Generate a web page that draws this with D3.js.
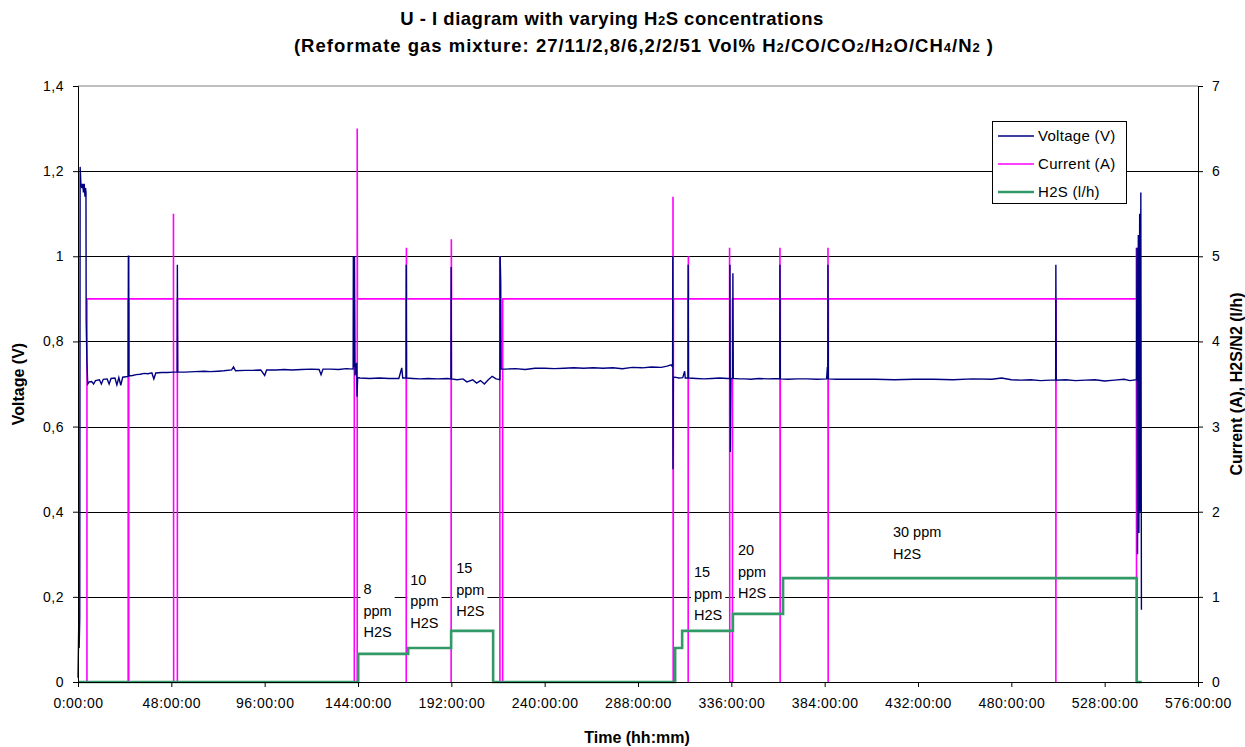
<!DOCTYPE html>
<html><head><meta charset="utf-8">
<script src="https://cdn.jsdelivr.net/npm/d3@7"></script>
<style>
html,body{margin:0;padding:0;background:#fff;}
svg{display:block;}
text{font-family:"Liberation Sans",Arial,sans-serif;}
</style></head>
<body>
<svg id="chart" width="1245" height="747"></svg>
<script>
// ---------- DATA ----------
const timeTickHours = [0,48,96,144,192,240,288,336,384,432,480,528,576];
const timeTickLabels = ["0:00:00","48:00:00","96:00:00","144:00:00","192:00:00","240:00:00","288:00:00","336:00:00","384:00:00","432:00:00","480:00:00","528:00:00","576:00:00"];
const leftTickValues = [0,0.2,0.4,0.6,0.8,1.0,1.2,1.4];
const leftTickLabels = ["0","0,2","0,4","0,6","0,8","1","1,2","1,4"];
const rightTickValues = [0,1,2,3,4,5,6,7];
const rightTickLabels = ["0","1","2","3","4","5","6","7"];
const seriesNames = ["Voltage (V)","Current (A)","H2S (l/h)"];

// Voltage (V) vs time (h)
const voltage = [
[0,0.01],[0.4,0.14],[0.6,0.08],[0.9,0.15],[1.1,1.21],[1.5,1.17],[2.0,1.16],[2.4,1.17],[2.8,1.15],[3.2,1.17],[3.6,1.14],[3.9,1.16],[4.1,1.15],[4.2,0.85],[4.6,0.75],[5.0,0.70],[5.8,0.705],
[7,0.706],[8,0.70],[9,0.708],[11,0.71],[12,0.70],[13,0.711],[15,0.712],[16,0.70],[17,0.713],[19,0.714],[20,0.698],[21,0.715],[22,0.697],[23,0.716],[25.8,0.718],[25.9,1.0],[26.1,1.0],[26.2,0.719],
[28,0.72],[30,0.722],[32,0.723],[34,0.725],[36,0.724],[38,0.726],[39,0.712],[40,0.726],[43,0.727],[46,0.727],[49,0.728],[51.0,0.728],[51.1,0.98],[51.3,0.728],
[55,0.728],[60,0.729],[65,0.73],[68,0.729],[72,0.73],[75,0.731],[79,0.733],[80,0.74],[81,0.731],[86,0.732],[90,0.732],[94,0.733],[96,0.72],[97,0.733],[102,0.733],[106,0.734],[110,0.733],[115,0.734],[120,0.735],[124,0.734],[125,0.722],[126,0.735],[130,0.735],[134,0.734],[138,0.736],[141.5,0.735],[141.6,1.0],[141.9,0.74],[142.2,1.0],[142.5,0.72],[143.3,0.75],[143.5,0.67],[143.8,0.715],
[145,0.714],[150,0.713],[155,0.714],[160,0.713],[165,0.713],[166.5,0.738],[167,0.714],[168.7,0.714],[168.8,0.98],[169.0,0.714],[172,0.713],[176,0.712],[180,0.713],[185,0.712],[190,0.713],[191.8,0.712],[191.9,0.975],[192.1,0.712],[195,0.71],[198,0.712],[200,0.705],[203,0.71],[205,0.702],[207,0.708],[209,0.70],[211,0.71],[213,0.718],[215,0.712],[217.0,0.71],[217.1,1.0],[217.4,0.94],[217.6,0.735],
[220,0.735],[225,0.736],[230,0.734],[235,0.737],[240,0.737],[245,0.736],[250,0.737],[255,0.738],[260,0.737],[265,0.738],[270,0.737],[275,0.738],[280,0.736],[285,0.739],[290,0.738],[295,0.74],[300,0.739],[303,0.742],[305,0.745],[305.8,0.74],[305.9,1.0],[306.0,0.5],[306.2,0.715],
[307,0.716],[309,0.714],[311,0.715],[312,0.73],[312.3,0.714],[313.7,0.714],[313.8,0.98],[314.0,0.714],[318,0.713],[322,0.712],[326,0.713],[330,0.714],[334,0.713],[335.2,0.713],[335.3,0.98],[335.5,0.54],[335.8,0.713],[336.7,0.713],[336.8,0.96],[337.0,0.713],
[340,0.712],[343,0.712],[346,0.711],[350,0.713],[355,0.712],[360.9,0.713],[361.0,0.98],[361.2,0.712],[365,0.711],[370,0.712],[375,0.712],[380,0.711],[385,0.712],[385.4,0.74],[385.6,0.712],[385.7,0.98],[385.9,0.712],
[390,0.711],[400,0.711],[410,0.711],[420,0.71],[430,0.711],[440,0.711],[450,0.71],[460,0.712],[470,0.711],[475,0.714],[480,0.71],[485,0.709],[490,0.71],[495,0.708],[500,0.709],[502.8,0.709],[502.9,0.98],[503.1,0.709],
[508,0.71],[513,0.708],[518,0.709],[523,0.71],[528,0.707],[533,0.709],[538,0.711],[541,0.708],[544.4,0.71],[544.6,1.02],[544.9,0.30],[545.3,1.05],[545.6,0.35],[546.0,1.1],[546.3,0.4],[546.6,1.15],[546.9,0.17]
];

// Current (A) vs time (h)
const current = [
[0,0],[4.6,0],[4.6,4.5],
[25.8,4.5],[25.8,0],[26.1,0],[26.1,4.5],
[49.1,4.5],[49.1,5.5],[49.2,0],[51.1,0],[51.1,4.5],
[142.1,4.5],[142.1,0],[143.6,0],[143.6,6.5],[143.7,4.5],
[168.8,4.5],[168.8,0],[168.9,5.1],[169.0,4.5],
[191.9,4.5],[191.9,0],[192.0,5.2],[192.1,4.5],
[216.9,4.5],[216.9,5.0],[217.0,0],[218.4,0],[218.4,4.5],
[306.0,4.5],[306.0,5.7],[306.1,0],[306.2,4.5],
[313.8,4.5],[313.8,0],[313.9,5.0],[314.0,4.5],
[335.1,4.5],[335.1,5.1],[335.2,0],[336.6,0],[336.6,4.5],
[361.0,4.5],[361.0,5.1],[361.1,0],[361.2,4.5],
[385.7,4.5],[385.7,5.1],[385.8,0],[385.9,4.5],
[502.9,4.5],[502.9,0],[503.0,4.5],
[544.3,4.5],[544.3,5.1],[544.4,0],[547,0]
];

// H2S flow (l/h) vs time (h)
const h2s = [
[0,0],[144.1,0],[144.1,0.33],[169.8,0.33],[169.8,0.40],[191.9,0.40],[191.9,0.60],[213.5,0.60],[213.5,0],
[307.1,0],[307.1,0.40],[310.7,0.40],[310.7,0.60],[336.8,0.60],[336.8,0.80],[362.6,0.80],[362.6,1.22],[544.5,1.22],[544.5,0],[547,0]
];

// Concentration annotations: anchor time (h), right-axis value of first text line, lines
const annotationTimes = [146.8,170.9,194.5,316.8,339.4,419.1];
const annotationLevels = [1.03,1.14,1.28,1.23,1.49,1.70];
const annotationTexts = [["8","ppm","H2S"],["10","ppm","H2S"],["15","ppm","H2S"],["15","ppm","H2S"],["20","ppm","H2S"],["30 ppm","H2S"]];

// ---------- CHART ----------
const svg = d3.select("#chart");
svg.append("rect").attr("width",1245).attr("height",747).attr("fill","#fff");

const x = d3.scaleLinear().domain([0,576]).range([78,1198]);
const yL = d3.scaleLinear().domain([0,1.4]).range([682,86]);
const yR = d3.scaleLinear().domain([0,7]).range([682,86]);

// plot border (grey top)
svg.append("line").attr("x1",x(0)).attr("x2",x(576)).attr("y1",yL(1.4)).attr("y2",yL(1.4)).attr("stroke","#808080").attr("stroke-width",1);

// gridlines
svg.append("g").selectAll("line").data(leftTickValues.filter(v=>v>0 && v<1.4)).join("line")
  .attr("x1",x(0)).attr("x2",x(576)).attr("y1",d=>Math.round(yL(d))+0.5).attr("y2",d=>Math.round(yL(d))+0.5)
  .attr("stroke","#000").attr("stroke-width",1);

// annotation boxes (white background), drawn above gridlines
const annG = svg.append("g");
annotationTexts.forEach((lines,i)=>{
  const g = annG.append("g");
  const t = g.append("text").attr("x",x(annotationTimes[i])).attr("y",yR(annotationLevels[i]))
    .attr("font-family","'DejaVu Sans',Verdana,sans-serif").attr("font-size",14.5).attr("fill","#000");
  lines.forEach((s,j)=>{ t.append("tspan").attr("x",x(annotationTimes[i])).attr("dy",j===0?0:21.5).text(s); });
  const bb = t.node().getBBox();
  g.insert("rect","text").attr("x",bb.x-3).attr("y",bb.y-2).attr("width",bb.width+6).attr("height",bb.height+4).attr("fill","#fff");
});

// series
const lineL = d3.line().x(d=>x(d[0])).y(d=>yL(d[1]));
const lineR = d3.line().x(d=>x(d[0])).y(d=>yR(d[1]));
svg.append("path").datum(current).attr("d",lineR).attr("fill","none").attr("stroke","#FF00FF").attr("stroke-width",1.6);
svg.append("path").datum(voltage).attr("d",lineL).attr("fill","none").attr("stroke","#000080").attr("stroke-width",1.4);
svg.append("path").datum(h2s).attr("d",lineR).attr("fill","none").attr("stroke","#339966").attr("stroke-width",2.6);

// axes
const axisFont = g => g.selectAll("text").attr("font-family","'Liberation Sans',Arial,sans-serif").attr("font-size",14).attr("letter-spacing","0.5px").attr("fill","#000");
const xAxis = svg.append("g").attr("transform","translate(0,682)")
  .call(d3.axisBottom(x).tickValues(timeTickHours).tickFormat((d,i)=>timeTickLabels[i]).tickSizeOuter(0).tickSize(5).tickPadding(11));
xAxis.call(axisFont);
const yAxisL = svg.append("g").attr("transform","translate(78,0)")
  .call(d3.axisLeft(yL).tickValues(leftTickValues).tickFormat((d,i)=>leftTickLabels[i]).tickSizeOuter(0).tickSize(5).tickPadding(9));
yAxisL.call(axisFont);
const yAxisR = svg.append("g").attr("transform","translate(1198,0)")
  .call(d3.axisRight(yR).tickValues(rightTickValues).tickFormat((d,i)=>rightTickLabels[i]).tickSizeOuter(0).tickSize(5).tickPadding(9));
yAxisR.call(axisFont);
svg.selectAll(".domain").attr("stroke","#000");
svg.selectAll(".tick line").attr("stroke","#000");

// axis titles
svg.append("text").attr("x",637).attr("y",743).attr("text-anchor","middle").attr("font-weight","bold").attr("font-size",16).text("Time (hh:mm)");
svg.append("text").attr("transform","translate(24,384) rotate(-90)").attr("text-anchor","middle").attr("font-weight","bold").attr("font-size",16).text("Voltage (V)");
svg.append("text").attr("transform","translate(1242,384) rotate(-90)").attr("text-anchor","middle").attr("font-weight","bold").attr("font-size",16).text("Current (A), H2S/N2 (l/h)");

// title
const t1 = svg.append("text").attr("x",612).attr("y",25).attr("text-anchor","middle").attr("font-weight","bold").attr("font-size",18.5).attr("letter-spacing","0.5px");
t1.append("tspan").text("U - I diagram with varying H");
t1.append("tspan").attr("font-size",13).text("2");
t1.append("tspan").text("S concentrations");
const t2 = svg.append("text").attr("x",644).attr("y",52).attr("text-anchor","middle").attr("font-weight","bold").attr("font-size",18.5).attr("letter-spacing","1px");
const parts2 = [["(Reformate gas mixture: 27/11/2,8/6,2/2/51 Vol% H",0],["2",1],["/CO/CO",0],["2",1],["/H",0],["2",1],["O/CH",0],["4",1],["/N",0],["2",1],[" )",0]];
parts2.forEach(p=>{ const ts=t2.append("tspan").text(p[0]); if(p[1]) ts.attr("font-size",13); });

// legend
const lg = svg.append("g").attr("transform","translate(992,121)");
lg.append("rect").attr("x",0.5).attr("y",0.5).attr("width",134).attr("height",82).attr("fill","#fff").attr("stroke","#000").attr("stroke-width",1);
const legColors = ["#000080","#FF00FF","#339966"];
const legWidths = [1.4,1.6,2.6];
seriesNames.forEach((n,i)=>{
  const yy = 15 + i*28;
  lg.append("line").attr("x1",6).attr("x2",42).attr("y1",yy).attr("y2",yy).attr("stroke",legColors[i]).attr("stroke-width",legWidths[i]);
  lg.append("text").attr("x",46).attr("y",yy+5).attr("font-size",15).attr("letter-spacing","0.3px").text(n);
});
</script>
</body></html>
